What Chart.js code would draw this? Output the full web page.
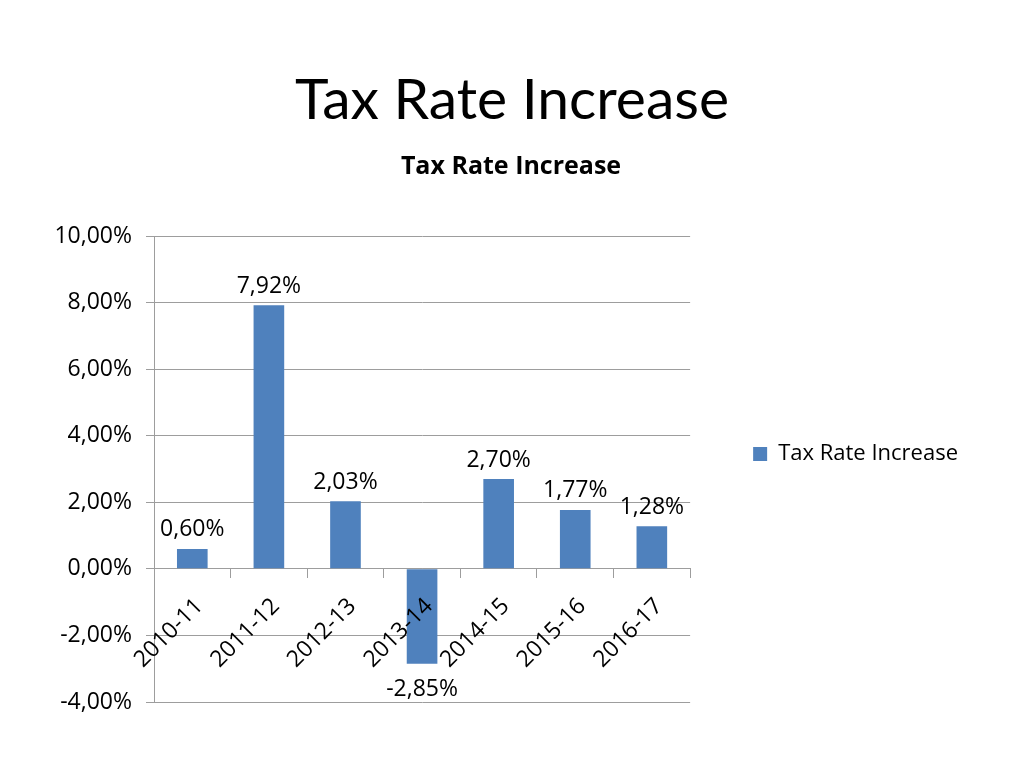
<!DOCTYPE html>
<html>
<head>
<meta charset="utf-8">
<script src="https://cdn.jsdelivr.net/npm/chart.js@4"></script>
<style>
  html, body { margin: 0; padding: 0; background: #fff; }
  #wrap { position: relative; width: 1024px; height: 768px; }
  #slideTitle {
    position: absolute; left: 0; top: 60px; width: 1024px;
    text-align: center; font-family: Lato, sans-serif;
    font-size: 57px; line-height: 74px; color: #000;
  }
  canvas { position: absolute; left: 0; top: 0; }
</style>
</head>
<body>
<div id="wrap">
  <div id="slideTitle">Tax Rate Increase</div>
  <canvas id="taxChart" width="1024" height="768"></canvas>
</div>
<script>
// values
const periods = ['2010-11', '2011-12', '2012-13', '2013-14', '2014-15', '2015-16', '2016-17'];
const taxRateIncrease = [0.60, 7.92, 2.03, -2.85, 2.70, 1.77, 1.28];
const yTicks = [-4, -2, 0, 2, 4, 6, 8, 10];

const FONT = 'Open Sans';
const BAR_BLUE = '#4F81BD';
const GRID = '#9D9D9D';

function pct(v) {
    return v.toFixed(2).replace('.', ',') + '%';
}

// value labels above / below each bar, like Excel's data labels
const barLabels = {
    id: 'barLabels',
    afterDatasetsDraw(chart) {
        const ctx = chart.ctx;
        const meta = chart.getDatasetMeta(0);
        ctx.save();
        ctx.font = '23px "' + FONT + '"';
        ctx.fillStyle = '#000';
        ctx.textAlign = 'center';
        ctx.textBaseline = 'middle';
        meta.data.forEach((bar, i) => {
            const v = taxRateIncrease[i];
            const y = v >= 0 ? bar.y - 19 : bar.y + 26;
            ctx.fillText(pct(v), bar.x, y);
        });
        ctx.restore();
    }
};

new Chart(document.getElementById('taxChart'), {
    type: 'bar',
    data: {
        labels: periods,
        datasets: [{
            label: 'Tax Rate Increase',
            data: taxRateIncrease,
            backgroundColor: BAR_BLUE,
            borderWidth: 0,
            categoryPercentage: 1,
            barPercentage: 0.4
        }]
    },
    options: {
        responsive: false,
        animation: false,
        layout: { padding: { top: 140, left: 54, right: 56, bottom: 0 } },
        plugins: {
            title: {
                display: true,
                text: 'Tax Rate Increase',
                color: '#000',
                font: { family: FONT, size: 25, weight: 'bold' },
                padding: { top: 12, bottom: 54 }
            },
            // empty spacer under the plot so the legend sits where Excel put it
            subtitle: {
                display: true,
                text: '',
                position: 'bottom',
                fullSize: false,
                font: { size: 10 },
                padding: { top: 0, bottom: 54 }
            },
            legend: {
                position: 'right',
                maxWidth: 400,
                labels: {
                    color: '#000',
                    font: { family: FONT, size: 22 },
                    boxWidth: 14,
                    boxHeight: 14,
                    padding: 63
                }
            },
            tooltip: { enabled: false }
        },
        scales: {
            x: {
                position: { y: 0 },
                grid: { display: true, drawOnChartArea: false, color: GRID, tickLength: 9 },
                border: { color: GRID },
                ticks: {
                    z: 1,   // category labels sit on top of the negative bar
                    color: '#000',
                    font: { family: FONT, size: 23 },
                    minRotation: 45,
                    maxRotation: 45,
                    padding: 15,
                    labelOffset: 7
                }
            },
            y: {
                min: -4,
                max: 10,
                afterBuildTicks(axis) {
                    axis.ticks = yTicks.map(v => ({ value: v }));
                },
                afterFit(axis) {
                    axis.width = 100;
                },
                grid: { color: GRID, tickLength: 8 },
                border: { color: GRID },
                ticks: {
                    color: '#000',
                    font: { family: FONT, size: 23 },
                    padding: 14,
                    callback: v => pct(v)
                }
            }
        }
    },
    plugins: [barLabels]
});
</script>
</body>
</html>
